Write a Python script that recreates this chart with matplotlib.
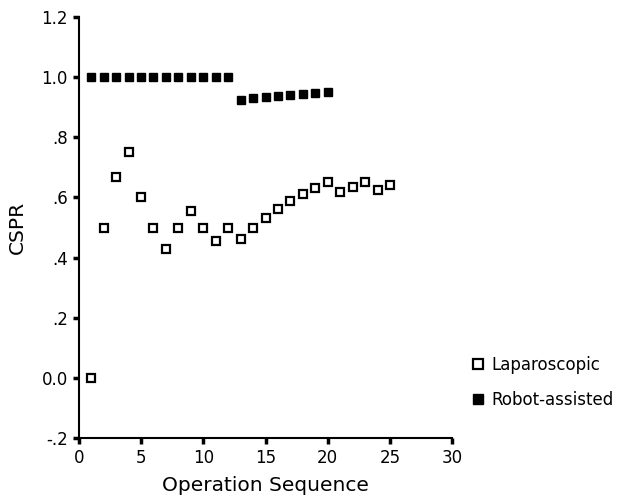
import numpy as np
import matplotlib.pyplot as plt

# operation sequence numbers
lap_x = list(range(1, 26))
robot_x = list(range(1, 21))

# cumulative success rate
lap_cspr = [0.0, 0.5, 0.667, 0.75, 0.6, 0.5, 0.4286, 0.5, 0.556, 0.5,
            0.4545, 0.5, 0.4615, 0.5, 0.533, 0.5625, 0.588, 0.611, 0.632, 0.65,
            0.619, 0.636, 0.652, 0.625, 0.64]
robot_cspr = [1.0] * 12 + [0.923, 0.929, 0.933, 0.9375, 0.941, 0.944, 0.947, 0.95]

yticks = [-0.2, 0.0, 0.2, 0.4, 0.6, 0.8, 1.0, 1.2]
ytick_labels = ["-.2", "0.0", ".2", ".4", ".6", ".8", "1.0", "1.2"]
xticks = [0, 5, 10, 15, 20, 25, 30]

plt.rcParams['font.family'] = ['DejaVu Sans']

fig = plt.figure(figsize=(6.3, 4.98), dpi=100)
ax = fig.add_axes([0.125, 0.12, 0.593, 0.846])

ax.plot(lap_x, lap_cspr, linestyle='none', marker='s', ms=5.5,
        mfc='white', mec='black', mew=1.6, label='Laparoscopic', clip_on=False)
ax.plot(robot_x, robot_cspr, linestyle='none', marker='s', ms=6,
        mfc='black', mec='black', label='Robot-assisted', clip_on=False)

ax.set_xlim(0, 30)
ax.set_ylim(-0.2, 1.2)
ax.set_xticks(xticks)
ax.set_yticks(yticks)
ax.set_yticklabels(ytick_labels)
for s in ['top', 'right']:
    ax.spines[s].set_visible(False)
for s in ['left', 'bottom']:
    ax.spines[s].set_linewidth(1.5)
ax.tick_params(direction='out', length=4, width=2.5, labelsize=12, pad=4)

ax.set_xlabel("Operation Sequence", fontsize=14.5, labelpad=6)
ax.set_ylabel("CSPR", fontsize=14.5, labelpad=10)

fig.legend(loc='upper left', bbox_to_anchor=(0.722, 0.315), frameon=False,
           fontsize=12, handletextpad=0.3, labelspacing=1.0, handlelength=1.0,
           markerscale=1.3)

fig.savefig("out.png", dpi=100)
